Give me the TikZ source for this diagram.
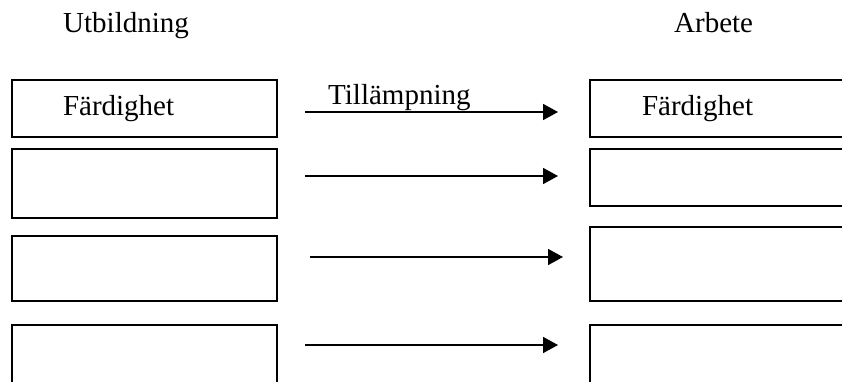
\documentclass[tikz,border=0pt]{standalone}
\usepackage{fontspec}
\setmainfont{Liberation Serif}
\usetikzlibrary{positioning}
\usetikzlibrary{arrows.meta}
\tikzset{box/.style={draw, line width=1.6pt, outer sep=0pt, inner ysep=0pt, minimum height=#1, text width=163pt, inner xsep=51pt, align=left}}
\tikzset{rbox/.style={box=#1, text width=166pt, inner xsep=52pt}}
\tikzset{lbl/.style={inner sep=0pt, anchor=base west}}
\tikzset{pil/.style={-{Triangle[length=15pt,width=16pt]}, line width=1.6pt}}

\begin{document}
\begin{tikzpicture}[x=1pt, y=-1pt, font=\fontsize{29}{35}\selectfont]
        \useasboundingbox (0,0) rectangle (842,382);
        \clip (0,0) rectangle (842,382);

        \node[lbl] (utb) at (63,33) {Utbildning};
        \node[lbl] (arb) at (674,33) {Arbete};

        \node[box=57pt, anchor=north west] (L1) at (12,80) {Färdighet};
        \node[box=69pt, below=12pt of L1] (L2) {};
        \node[box=65pt, below=18pt of L2] (L3) {};
        \node[box=70pt, below=24pt of L3] (L4) {};

        \node[rbox=57pt, right=313pt of L1] (R1) {Färdighet};
        \node[rbox=57pt, below=12pt of R1] (R2) {};
        \node[rbox=74pt, below=21pt of R2] (R3) {};
        \node[rbox=70pt, below=24pt of R3] (R4) {};

        % free arrow ends between the columns
        \coordinate (a1) at (305,112);
        \coordinate (b1) at (558,112);
        \coordinate (a2) at (305,176);
        \coordinate (b2) at (558,176);
        \coordinate (a3) at (310,257);
        \coordinate (b3) at (563,257);
        \coordinate (a4) at (305,345);
        \coordinate (b4) at (558,345);

        \draw[pil] (a1) -- (b1);
        \draw[pil] (a2) -- (b2);
        \draw[pil] (a3) -- (b3);
        \draw[pil] (a4) -- (b4);

        \node[lbl] (till) at (328,105) {Tillämpning};
\end{tikzpicture}
\end{document}
